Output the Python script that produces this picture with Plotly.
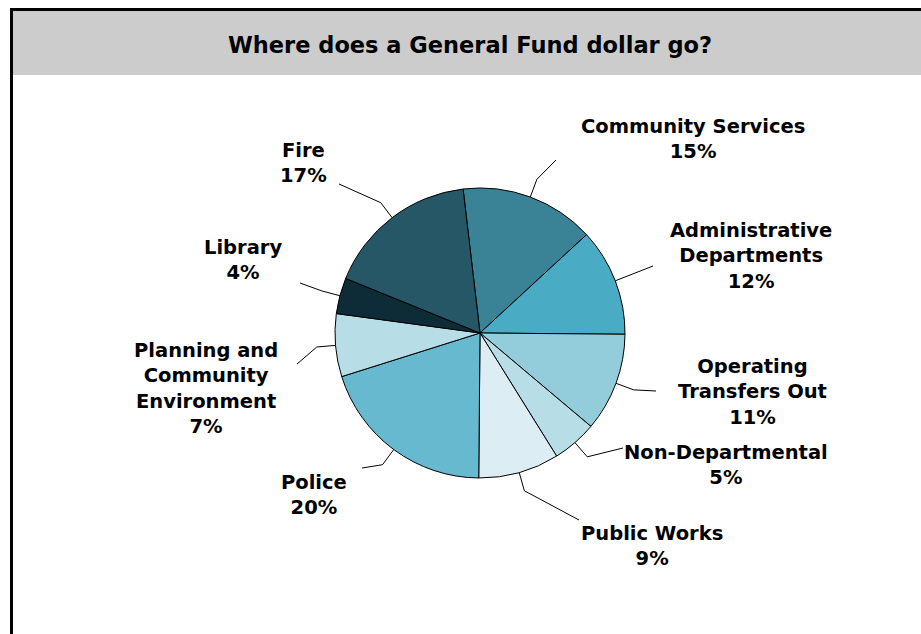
import math
import plotly.graph_objects as go

# General Fund spending shares (percent), clockwise from the top
categories = [
    "Community Services",
    "Administrative Departments",
    "Operating Transfers Out",
    "Non-Departmental",
    "Public Works",
    "Police",
    "Planning and Community Environment",
    "Library",
    "Fire",
]
shares = [15, 12, 11, 5, 9, 20, 7, 4, 17]
label_lines = [
    ["Community Services"],
    ["Administrative", "Departments"],
    ["Operating", "Transfers Out"],
    ["Non-Departmental"],
    ["Public Works"],
    ["Police"],
    ["Planning and", "Community", "Environment"],
    ["Library"],
    ["Fire"],
]
colors = ["#3A8296", "#4AABC4", "#93CDDB", "#B7DDE7", "#DCEEF3",
          "#67B9CF", "#B7DDE7", "#0E2C37", "#255766"]

W, H = 921, 634
CX, CY, R = 480, 333, 145          # pie centre and radius in pixels
START = -6.7                       # first slice boundary, degrees clockwise from 12 o'clock

# label block centres and leader-line end points (pixels)
label_pos = [(693, 139), (751, 256), (752, 392), (726, 465), (652, 546),
             (314, 495), (206, 388), (243, 260), (303, 163)]
leader_end = [(556, 160), (653, 266), (656, 391), (623, 448), (579, 520),
              (362, 468), (297, 364), (300, 283), (339, 184)]

FONT = "DejaVu Sans"

fig = go.Figure()

fig.add_trace(go.Pie(
    labels=categories, values=shares, sort=False, direction="clockwise",
    rotation=START, textinfo="none", hoverinfo="label+percent",
    marker=dict(colors=colors, line=dict(color="black", width=1)),
    domain=dict(x=[(CX - R) / W, (CX + R) / W],
                y=[(H - CY - R) / H, (H - CY + R) / H]),
    showlegend=False,
))

# leader lines: radial stub from the slice midpoint, then out to the label
total = sum(shares)
acc = 0
for v, end in zip(shares, leader_end):
    mid = math.radians(START + 360 * (acc + v / 2) / total)
    acc += v
    p0 = (CX + R * math.sin(mid), CY - R * math.cos(mid))
    p1 = (CX + R * 1.13 * math.sin(mid), CY - R * 1.13 * math.cos(mid))
    fig.add_trace(go.Scatter(
        x=[p0[0], p1[0], end[0]], y=[p0[1], p1[1], end[1]],
        mode="lines", line=dict(color="black", width=1),
        hoverinfo="skip", showlegend=False,
    ))

annotations = []
for lines, v, (lx, ly) in zip(label_lines, shares, label_pos):
    annotations.append(dict(
        x=lx, y=ly, xref="x", yref="y", showarrow=False,
        text="<br>".join(lines + [f"{v}%"]),
        xanchor="center", yanchor="middle", align="center",
        font=dict(family=FONT, size=19.5, color="black", weight="bold"),
    ))

annotations.append(dict(
    x=470, y=45, xref="x", yref="y", showarrow=False,
    text="Where does a General Fund dollar go?",
    xanchor="center", yanchor="middle",
    font=dict(family=FONT, size=22.5, color="black", weight="bold"),
))

shapes = [
    dict(type="rect", xref="x", yref="y", x0=13, x1=W + 5, y0=11, y1=75,
         fillcolor="#CCCCCC", line=dict(width=0), layer="below"),
    dict(type="line", xref="x", yref="y", x0=10, x1=W + 5, y0=9.5, y1=9.5,
         line=dict(color="black", width=3)),
    dict(type="line", xref="x", yref="y", x0=11.5, x1=11.5, y0=8, y1=H + 5,
         line=dict(color="black", width=3)),
]

fig.update_layout(
    width=W, height=H,
    margin=dict(l=0, r=0, t=0, b=0),
    paper_bgcolor="white", plot_bgcolor="rgba(0,0,0,0)",
    xaxis=dict(range=[0, W], visible=False, fixedrange=True),
    yaxis=dict(range=[H, 0], visible=False, fixedrange=True),
    annotations=annotations, shapes=shapes,
)

fig.write_html("out.html")
